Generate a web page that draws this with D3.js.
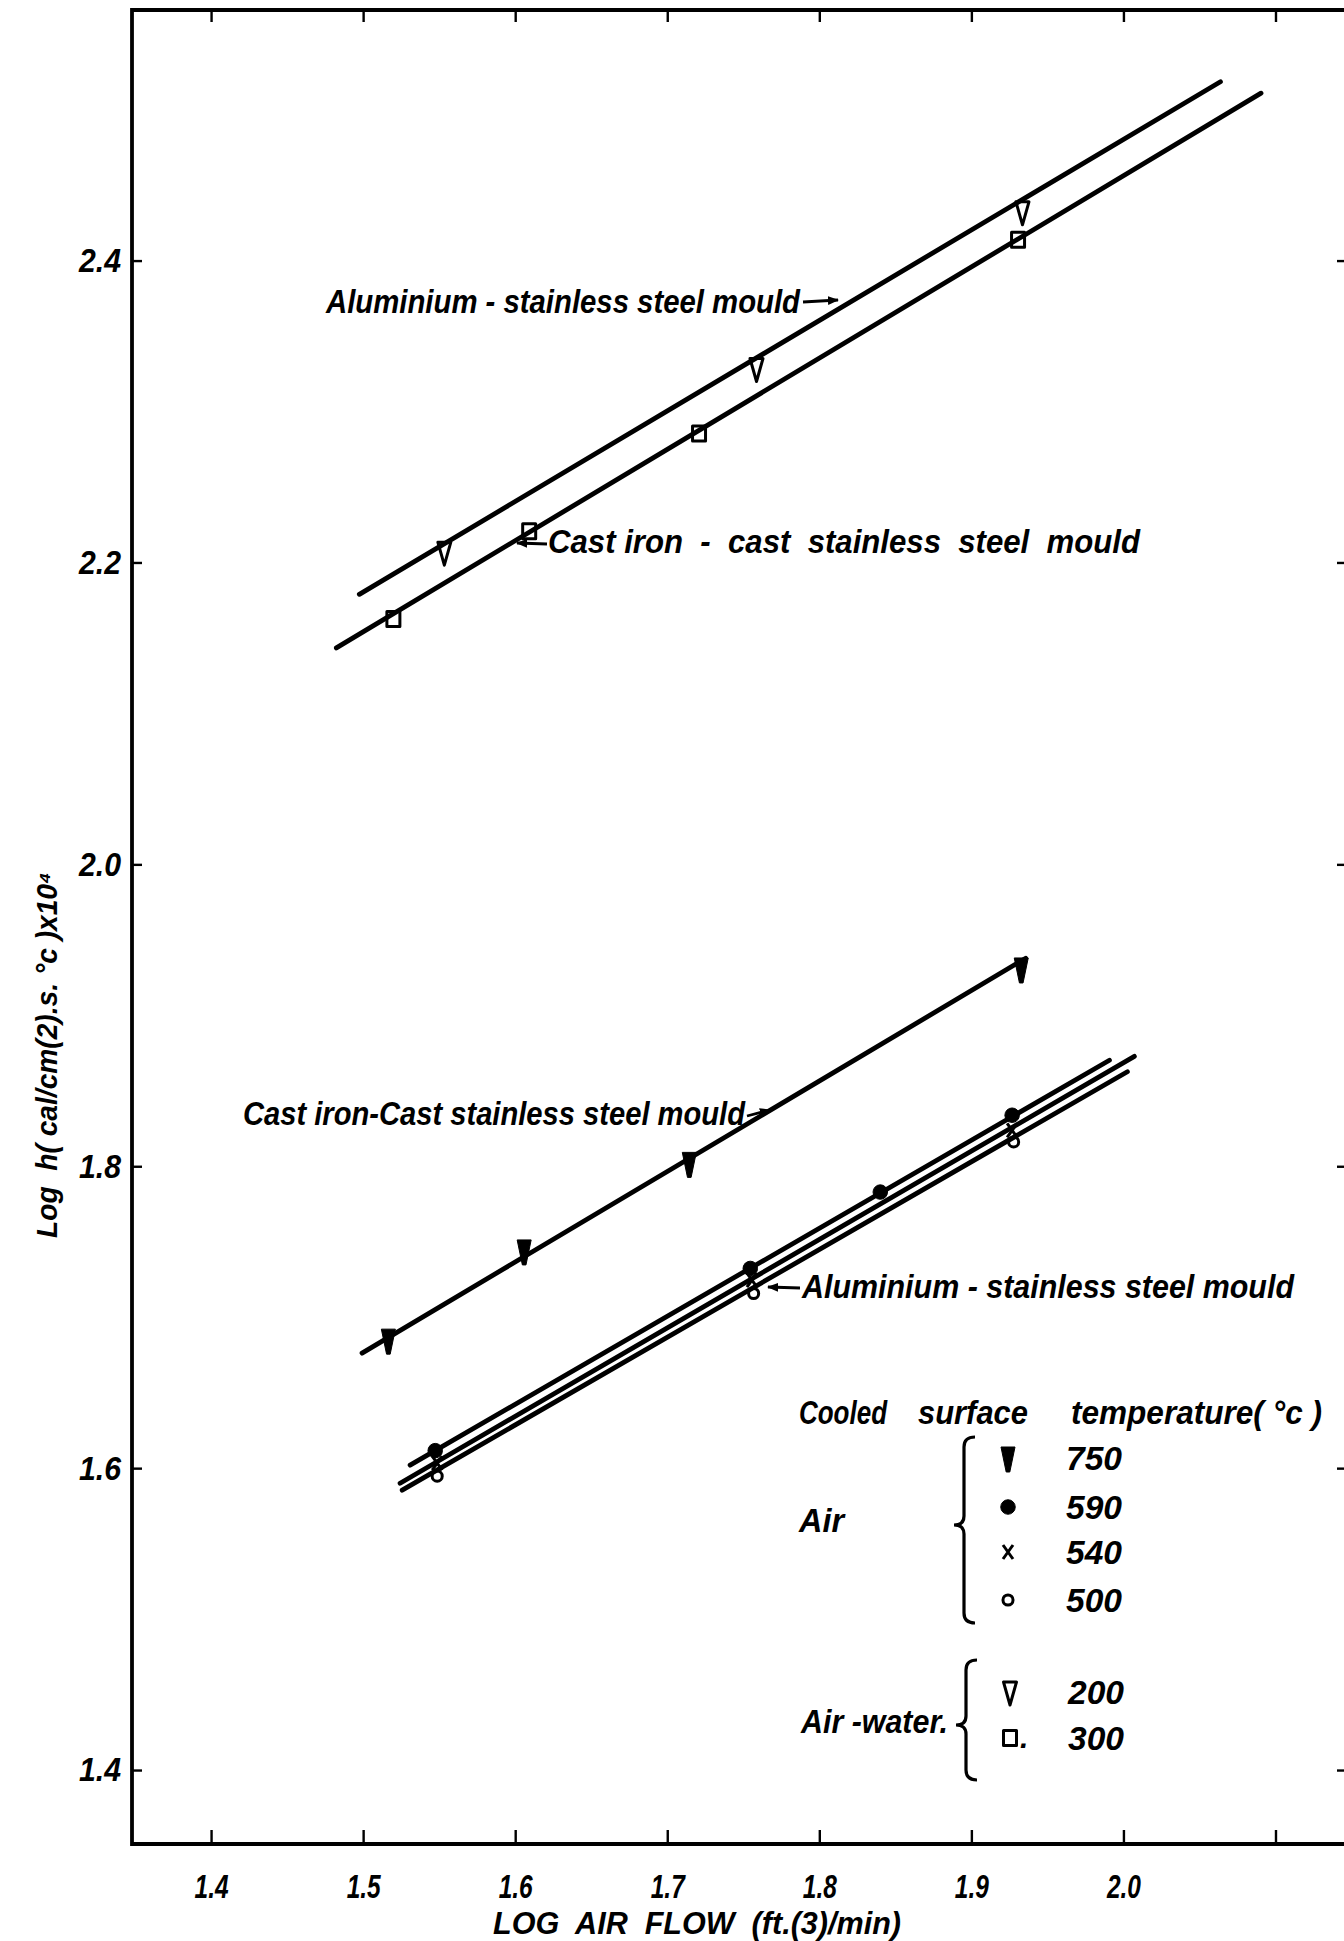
<!DOCTYPE html>
<html>
<head>
<meta charset="utf-8">
<script src="https://cdn.jsdelivr.net/npm/d3@7"></script>
<style>
    html, body { margin: 0; padding: 0; background: #fff; }
    svg { display: block; background: #fff; }
    text { font-family: "Liberation Sans Narrow", "Liberation Sans", Arial, sans-serif; font-style: italic; fill: #000; white-space: pre; }
</style>
</head>
<body>
<svg id="chart" width="1344" height="1941"></svg>
<script>
(function () {
    "use strict";

    // tick values along both axes
    var xTicks = [1.4, 1.5, 1.6, 1.7, 1.8, 1.9, 2.0, 2.1];
    var xTickLabels = ["1.4", "1.5", "1.6", "1.7", "1.8", "1.9", "2.0", ""];
    var yTicks = [1.4, 1.6, 1.8, 2.0, 2.2, 2.4];
    var yTickLabels = ["1.4", "1.6", "1.8", "2.0", "2.2", "2.4"];

    // [log air flow, log h]
    // air-water 200 C, aluminium - stainless steel mould
    var airWater200 = [[1.5534, 2.2068], [1.7587, 2.3285], [1.9336, 2.4323]];
    var airWater200Fit = [[1.4975, 2.1789], [2.0638, 2.5185]];
    // air-water 300 C, cast iron - cast stainless steel mould
    var airWater300 = [[1.5199, 2.1625], [1.6092, 2.2207], [1.7209, 2.2854], [1.9307, 2.4138]];
    var airWater300Fit = [[1.4824, 2.1434], [2.0905, 2.5109]];
    // air 750 C, cast iron - cast stainless steel mould
    var air750 = [[1.5166, 1.6848], [1.6059, 1.7439], [1.7145, 1.8019], [1.9328, 1.9307]];
    var air750Fit = [[1.4993, 1.6762], [1.9357, 1.9378]];
    // air 590 / 540 / 500 C, aluminium - stainless steel mould
    var air590 = [[1.5474, 1.6116], [1.7546, 1.7323], [1.8401, 1.7829], [1.9268, 1.8338]];
    var air590Fit = [[1.5309, 1.6020], [1.9908, 1.8702]];
    var air540 = [[1.5487, 1.6033], [1.7557, 1.7245], [1.9268, 1.8238]];
    var air540Fit = [[1.5243, 1.5900], [2.0072, 1.8728]];
    var air500 = [[1.5487, 1.5947], [1.7568, 1.7157], [1.9278, 1.8161]];
    var air500Fit = [[1.5257, 1.5854], [2.0026, 1.8626]];

    var airTemps = ["750", "590", "540", "500"];
    var airWaterTemps = ["200", "300"];

    var series = [
        {points: airWater200, fit: airWater200Fit, mark: "triOpen"},
        {points: airWater300, fit: airWater300Fit, mark: "square"},
        {points: air750, fit: air750Fit, mark: "triFill"},
        {points: air590, fit: air590Fit, mark: "dot"},
        {points: air540, fit: air540Fit, mark: "cross"},
        {points: air500, fit: air500Fit, mark: "ring"}
    ];

    var left = 132, right = 1350, top = 10, bottom = 1844;

    var x = d3.scaleLinear().domain([1.348, 2.149]).range([left, right]);
    var y = d3.scaleLinear().domain([1.351, 2.566]).range([bottom, top]);

    var svg = d3.select("#chart");

    function markPath(type) {
        switch (type) {
            case "triOpen": return "M-6.5,-10L6.5,-10L0,13Z";
            case "triFill": return "M-7,-11L7,-11L1.8,14L-1.8,14Z";
            case "square": return "M-6.5,-7.5H6.5V7.5H-6.5Z";
            case "cross": return "M-5,-7L5,7M5,-7L-5,7";
            case "dot": return d3.symbol(d3.symbolCircle, 165)();
            case "ring": return d3.symbol(d3.symbolCircle, 80)();
        }
    }

    function styleMark(sel, type) {
        var filled = type === "triFill" || type === "dot";
        sel.attr("d", markPath(type))
            .attr("fill", filled ? "#000" : "none")
            .attr("stroke", "#000")
            .attr("stroke-width", filled ? 1 : 3)
            .attr("stroke-linejoin", "round");
    }

    function label(txt, px, py, size, len, opts) {
        opts = opts || {};
        var t = svg.append("text")
            .attr("x", px)
            .attr("y", py)
            .attr("font-size", size)
            .attr("font-weight", "bold")
            .attr("text-anchor", opts.anchor || "start")
            .text(txt);
        if (len) {
            t.attr("textLength", len).attr("lengthAdjust", "spacingAndGlyphs");
        }
        return t;
    }

    // arrow head
    svg.append("svg:defs").append("svg:marker")
        .attr("id", "head")
        .attr("viewBox", "0 -5 10 10")
        .attr("refX", 9)
        .attr("refY", 0)
        .attr("markerWidth", 4)
        .attr("markerHeight", 4)
        .attr("orient", "auto")
        .append("svg:path")
        .attr("d", "M0,-4L10,0L0,4Z");

    // axes, ticks pointing into the plot
    var gx = svg.append("g")
        .attr("transform", "translate(0," + bottom + ")")
        .call(d3.axisBottom(x).tickValues(xTicks)
            .tickFormat(function (d, i) { return xTickLabels[i]; })
            .tickSize(-14).tickSizeOuter(0).tickPadding(30));
    svg.append("g")
        .attr("transform", "translate(0," + top + ")")
        .call(d3.axisTop(x).tickValues(xTicks).tickFormat("").tickSize(-12).tickSizeOuter(0));
    var gy = svg.append("g")
        .attr("transform", "translate(" + left + ",0)")
        .call(d3.axisLeft(y).tickValues(yTicks)
            .tickFormat(function (d, i) { return yTickLabels[i]; })
            .tickSize(-10).tickSizeOuter(0).tickPadding(11));
    svg.append("g")
        .attr("transform", "translate(" + right + ",0)")
        .call(d3.axisRight(y).tickValues(yTicks).tickFormat("").tickSize(-13).tickSizeOuter(0));

    svg.selectAll(".domain").remove();
    svg.selectAll(".tick line").attr("stroke", "#000").attr("stroke-width", 2.4);
    gx.selectAll(".tick text")
        .attr("font-size", 34).attr("font-weight", "bold").attr("font-family", null)
        .attr("textLength", 34).attr("lengthAdjust", "spacingAndGlyphs");
    gy.selectAll(".tick text")
        .attr("font-size", 34).attr("font-weight", "bold").attr("font-family", null)
        .attr("textLength", 42).attr("lengthAdjust", "spacingAndGlyphs");

    svg.append("path")
        .attr("d", "M" + left + "," + top + "H" + right + "V" + bottom + "H" + left + "Z")
        .attr("fill", "none")
        .attr("stroke", "#000")
        .attr("stroke-width", 3.8);

    // fitted lines and data marks
    var line = d3.line()
        .x(function (d) { return x(d[0]); })
        .y(function (d) { return y(d[1]); });

    series.forEach(function (s) {
        svg.append("path")
            .datum(s.fit)
            .attr("d", line)
            .attr("fill", "none")
            .attr("stroke", "#000")
            .attr("stroke-width", 4.8)
            .attr("stroke-linecap", "round");
    });

    series.forEach(function (s) {
        svg.append("g").selectAll("path")
            .data(s.points)
            .enter()
            .append("path")
            .attr("transform", function (d) { return "translate(" + x(d[0]) + "," + y(d[1]) + ")"; })
            .call(styleMark, s.mark);
    });

    // annotations
    label("Aluminium - stainless steel mould", 326, 313, 33, 474);
    label("Cast iron  -  cast  stainless  steel  mould", 548, 553, 33, 592);
    label("Cast iron-Cast stainless steel mould", 243, 1125, 33, 502);
    label("Aluminium - stainless steel mould", 802, 1298, 33, 492);

    var arrows = [
        [[803, 302], [838, 300]],
        [[547, 544], [517, 543]],
        [[747, 1116], [770, 1110]],
        [[800, 1288], [768, 1287]]
    ];
    svg.append("g").selectAll("line")
        .data(arrows)
        .enter()
        .append("line")
        .attr("x1", function (d) { return d[0][0]; })
        .attr("y1", function (d) { return d[0][1]; })
        .attr("x2", function (d) { return d[1][0]; })
        .attr("y2", function (d) { return d[1][1]; })
        .attr("stroke", "#000")
        .attr("stroke-width", 2.8)
        .attr("marker-end", "url(#head)");

    // legend
    label("Cooled", 799, 1424, 33, 88);
    label("surface", 918, 1424, 33, 110);
    label("temperature( °c )", 1071, 1424, 33, 251);
    label("Air", 799, 1532, 33, 45);
    label("Air -water.", 801, 1733, 33, 147);

    function brace(x0, y0, y1, ym) {
        var xs = x0 - 11, xt = x0 - 21;
        return "M" + x0 + "," + y0 + "Q" + xs + "," + y0 + " " + xs + "," + (y0 + 10) +
            "L" + xs + "," + (ym - 9) + "Q" + xs + "," + ym + " " + xt + "," + ym +
            "Q" + xs + "," + ym + " " + xs + "," + (ym + 9) +
            "L" + xs + "," + (y1 - 10) + "Q" + xs + "," + y1 + " " + x0 + "," + y1;
    }
    svg.append("path").attr("d", brace(975, 1437, 1623, 1525))
        .attr("fill", "none").attr("stroke", "#000").attr("stroke-width", 3.2);
    svg.append("path").attr("d", brace(977, 1660, 1780, 1725))
        .attr("fill", "none").attr("stroke", "#000").attr("stroke-width", 3.2);

    var airRows = [1458, 1507, 1552, 1600];
    var airMarks = ["triFill", "dot", "cross", "ring"];
    airTemps.forEach(function (t, i) {
        svg.append("path")
            .attr("transform", "translate(1008," + airRows[i] + ")")
            .call(styleMark, airMarks[i]);
        label(t, 1122, airRows[i] + 12, 33, 56, {anchor: "end"});
    });

    var awRows = [1692, 1738];
    var awMarks = ["triOpen", "square"];
    airWaterTemps.forEach(function (t, i) {
        svg.append("path")
            .attr("transform", "translate(1010," + awRows[i] + ")")
            .call(styleMark, awMarks[i]);
        label(t, 1124, awRows[i] + 12, 33, 56, {anchor: "end"});
    });
    label(".", 1020, 1748, 30);

    // axis titles
    label("LOG  AIR  FLOW  (ft.(3)/min)", 493, 1934, 32, 408);
    label("Log  h( cal/cm(2).s. °c )x10⁴", 0, 0, 30, 366, {anchor: "middle"})
        .attr("transform", "translate(57,1055) rotate(-90)");
}());
</script>
</body>
</html>
